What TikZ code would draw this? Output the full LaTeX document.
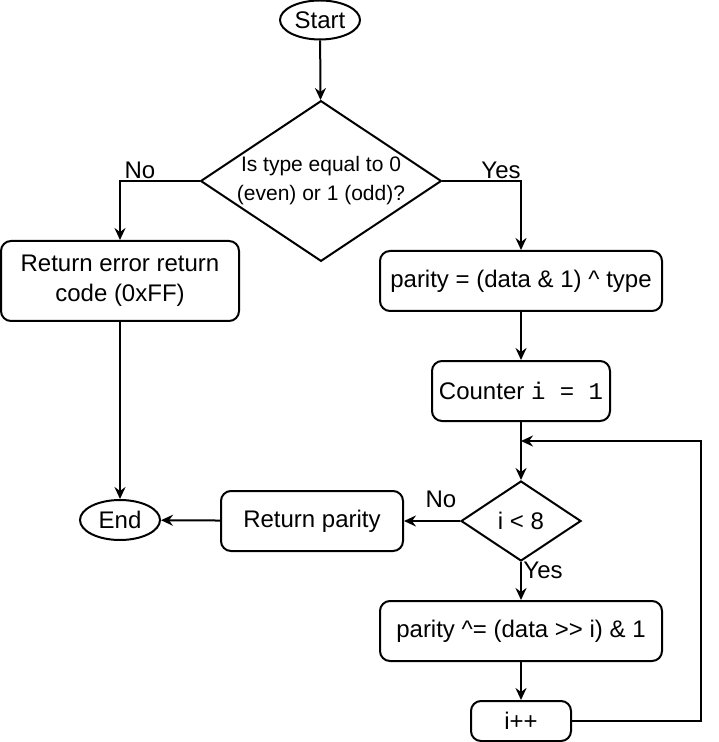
\documentclass[tikz,border=0pt]{standalone}
\usepackage{fontspec}
\setmainfont{Liberation Sans}
\setmonofont{Liberation Mono}
\usetikzlibrary{shapes.geometric,arrows.meta}

\begin{document}
\begin{tikzpicture}[x=0.5pt, y=-0.5pt, line width=1pt,
    every node/.style={font=\fontsize{12}{15}\selectfont},
    term/.style={draw, ellipse, inner sep=0pt, minimum width=40pt, minimum height=19.5pt},
    box/.style={draw, rounded corners=5pt, align=center, inner sep=0pt, minimum height=30pt},
    ask/.style={draw, diamond, inner sep=0pt, shape aspect=1.5, align=center},
    arr/.style={-{Stealth[length=6pt, width=5.5pt, inset=2pt]}}]
    \useasboundingbox (0,0) rectangle (718,742);
    \node[term] (start) at (320,20) {Start};
    \node[ask, minimum width=120pt, minimum height=80pt,
        font=\fontsize{10.5}{14.5}\selectfont] (type) at (321,181) {Is type equal to 0\\(even) or 1 (odd)?};
    \node[box, minimum width=119pt, minimum height=40pt] (err) at (120,281) {Return error return\\code (0xFF)};
    \node[box, minimum width=141pt] (par) at (521,281) {parity = (data \& 1) \^{} type};
    \node[box, minimum width=89pt] (cnt) at (521,391) {Counter \texttt{i = 1}};
    \node[ask, minimum width=60pt, minimum height=40pt] (test) at (521,521) {i < 8};
    \node[box, minimum width=91pt] (ret) at (312,521) {Return parity};
    \node[term, minimum height=20pt] (end) at (120,520) {End};
    \node[box, minimum width=141pt] (upd) at (521,631) {parity \^{}= (data >{}> i) \& 1};
    \node[box, minimum width=50pt, minimum height=20pt] (inc) at (521,721) {i++};
    \coordinate (back) at (521,441);
    % Below are the connectors.
        \draw[arr] (start) -- (type);
        \draw[arr] (type.west) -| (err.north);
        \draw[arr] (type.east) -| (par.north);
        \draw[arr] (par) -- (cnt);
        \draw[arr] (cnt) -- (test);
        \draw[arr] (err) -- (end);
        \draw[arr] (test) -- (ret);
        \draw[arr] (ret) -- (end);
        \draw[arr] (test) -- (upd);
        \draw[arr] (upd) -- (inc);
        \draw[arr] (inc.east) -- (701,721) |- (back);
    % Below nodes are the labels.
        \node (no1) at (140,170) {No};
        \node (yes1) at (501,170) {Yes};
        \node (no2) at (441,499) {No};
        \node (yes2) at (543,570) {Yes};
\end{tikzpicture}
\end{document}
